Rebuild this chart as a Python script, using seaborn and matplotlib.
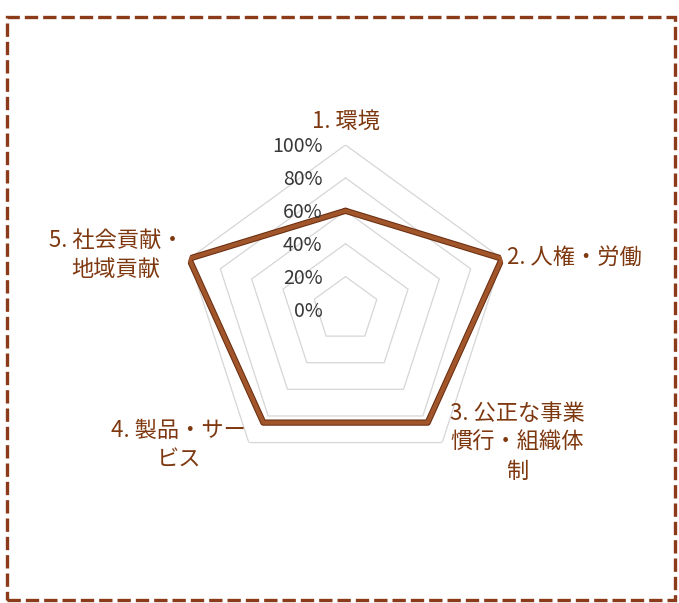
import numpy as np
import pandas as pd
import matplotlib
matplotlib.use("Agg")
import matplotlib.pyplot as plt
import matplotlib.patheffects as pe
from matplotlib.patches import Rectangle
import seaborn as sns

# ---- data ----
categories = ["1. 環境", "2. 人権・労働", "3. 公正な事業\n慣行・組織体\n制",
              "4. 製品・サー\nビス", "5. 社会貢献・\n地域貢献"]
values = [0.60, 1.00, 0.85, 0.85, 1.00]
grid_levels = [0.0, 0.2, 0.4, 0.6, 0.8, 1.0]
grid_labels = ["0%", "20%", "40%", "60%", "80%", "100%"]

# ---- style ----
sns.set_theme(style="white")
plt.rcParams['font.family'] = ['Noto Sans CJK JP', 'DejaVu Sans']

W, H, DPI = 679, 603, 100
fig = plt.figure(figsize=(W / DPI, H / DPI), dpi=DPI)
fig.patch.set_facecolor("white")

cx, cy, R = 345.5, 309.5, 164.5
ax = fig.add_axes([(cx - R) / W, (H - cy - R) / H, 2 * R / W, 2 * R / H],
                  projection="polar")
ax.set_theta_offset(np.pi / 2)
ax.set_theta_direction(-1)
ax.set_facecolor("none")

n = len(categories)
theta = np.arange(n) * 2 * np.pi / n
theta_closed = np.append(theta, 2 * np.pi)

# pentagon grid
for lvl in grid_levels[1:]:
    ax.plot(theta_closed, [lvl] * (n + 1), color="#D6D6D6", lw=0.9, zorder=1)

# data line via seaborn
df = pd.DataFrame({"theta": theta_closed, "value": values + values[:1]})
sns.lineplot(data=df, x="theta", y="value", sort=False, ax=ax,
             color="#A0552A", lw=3.0, zorder=3,
             path_effects=[pe.Stroke(linewidth=4.5, foreground="#6A2E10"), pe.Normal()])

ax.set_ylim(0, 1)
ax.set_xticks([])
ax.set_yticks([])
ax.grid(False)
ax.spines["polar"].set_visible(False)
ax.set_xlabel("")
ax.set_ylabel("")

# radial tick labels
for lvl, lab in zip(grid_levels, grid_labels):
    ax.annotate(lab, xy=(0, lvl), xytext=(-23, -2), textcoords="offset pixels",
                ha="right", va="center", fontsize=14, color="#383838")

# category labels
offsets = [(0, 24, "center"), (5, 1, "left"), (75, 0, "center"),
           (-70, -3, "center"), (-73, 4, "center")]
for t, lab, (dx, dy, ha) in zip(theta, categories, offsets):
    ax.annotate(lab, xy=(t, 1.0), xytext=(dx, dy), textcoords="offset pixels",
                ha=ha, va="center", multialignment="center",
                fontsize=16, color="#7E3810", linespacing=1.35)

# dashed border
border = Rectangle((7 / W, 3 / H), 668 / W, 583 / H, transform=fig.transFigure,
                   fill=False, edgecolor="#8B3A1A", lw=2.4,
                   linestyle=(0, (4.0, 1.5)), zorder=10)
fig.patches.append(border)

fig.savefig("out.png", dpi=DPI)
